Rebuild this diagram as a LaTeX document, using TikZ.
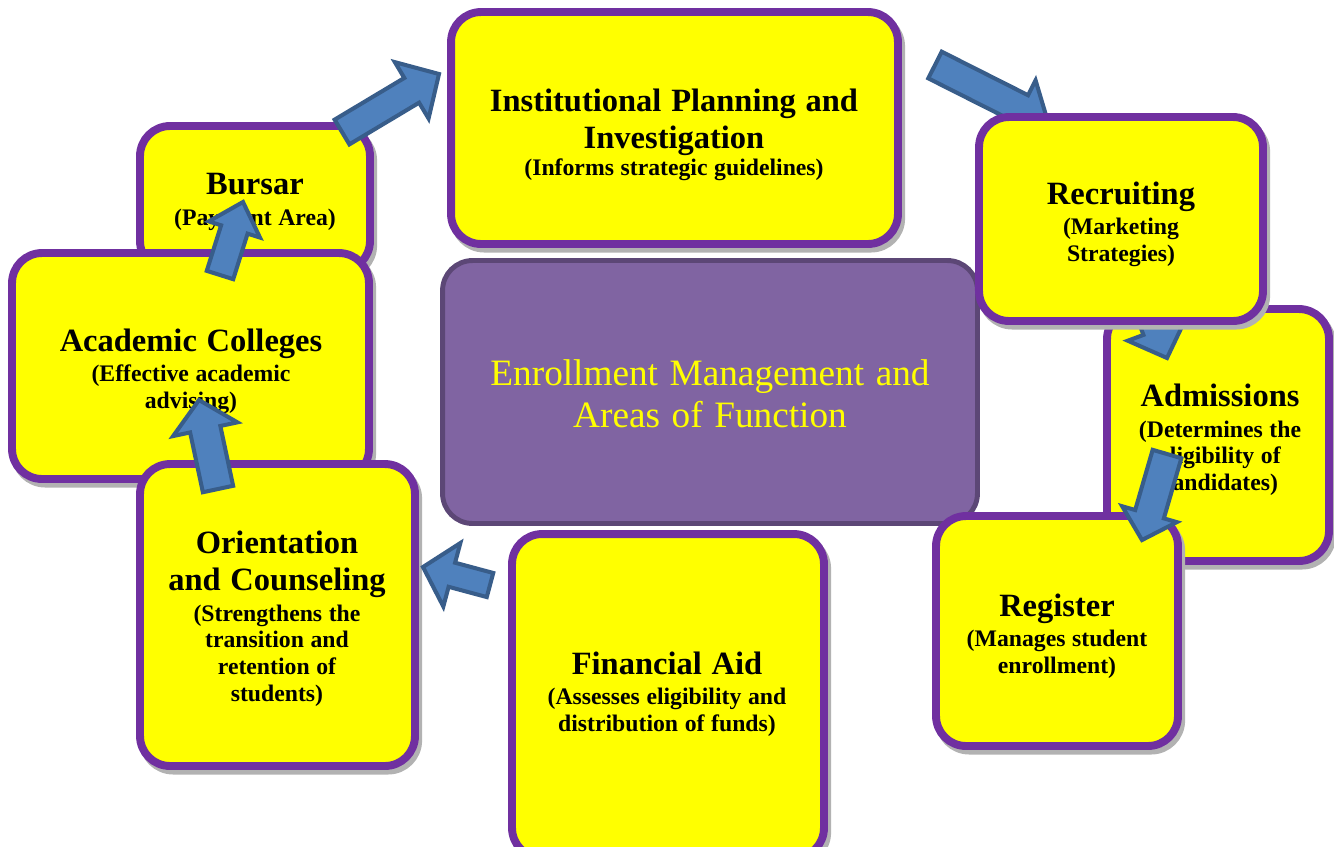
\documentclass[tikz,border=0pt]{standalone}
\usepackage{fontspec}
\setmainfont{Liberation Serif}[WordSpace=1.25]
\usetikzlibrary{calc}
\definecolor{boxpurple}{HTML}{7030A0}
\definecolor{boxyellow}{HTML}{FFFF00}
\definecolor{arrowfill}{HTML}{4F81BD}
\definecolor{arrowline}{HTML}{385D8A}
\definecolor{centerfill}{HTML}{8064A2}
\definecolor{centerline}{HTML}{5C4776}
\newcommand\ttlfont{\fontsize{18.5}{21}\selectfont\bfseries\spaceskip=0.3em\relax}
\newcommand\subfont{\fontsize{13.5}{15.3}\selectfont\bfseries\spaceskip=0.28em\relax}
\newcommand\barrow[6]{%
  \coordinate (#1t) at #2; \coordinate (#1h) at #3;
  \coordinate (#1b) at ($(#1h)!#6!(#1t)$);
  \draw[blockarrow] ($(#1t)!#4!90:(#1h)$) -- ($(#1b)!#4!-90:(#1t)$) -- ($(#1b)!#5!-90:(#1t)$) -- (#1h)
     -- ($(#1b)!#5!90:(#1t)$) -- ($(#1b)!#4!90:(#1t)$) -- ($(#1t)!#4!-90:(#1h)$) -- cycle;}
\tikzset{
  ybox/.style={rectangle, rounded corners=0.6cm, draw=boxpurple, fill=boxyellow, line width=4.5pt,
    inner sep=0pt, outer sep=0pt,
    preaction={draw=black!30, fill=black!30, line width=4.5pt, transform canvas={xshift=1.8pt, yshift=-2.6pt}}},
  cbox/.style={rectangle, rounded corners=0.6cm, draw=centerline, fill=centerfill, line width=2.8pt,
    inner sep=0pt, outer sep=0pt},
  lbl/.style={text width=8cm, align=center, inner sep=0pt, text=black},
  blockarrow/.style={draw=arrowline, fill=arrowfill, line width=2.3pt, line join=miter}
}
\begin{document}
\begin{tikzpicture}[x=0.02cm, y=-0.02cm]
\useasboundingbox (0,0) rectangle (1334,846);
\clip (0,0) rectangle (1334,846);
% Bursar
\node[ybox, minimum width=4.6cm, minimum height=2.9cm] (bursar) at (255,198.5) {};
\node[lbl] (bursarT) at (255,202) {\ttlfont Bursar\par\vspace{2pt}\subfont (Payment Area)\par};
% Academic
\node[ybox, minimum width=7.14cm, minimum height=4.52cm] (acad) at (190.5,366) {};
\node[lbl] (acadT) at (191,371) {\ttlfont Academic Colleges\par\vspace{2pt}\subfont (Effective academic\\advising)\par};
\barrow{a7}{(220,275)}{(243,202)}{7.9pt}{15.3pt}{16.4pt}
% Orientation
\node[ybox, minimum width=5.5cm, minimum height=6.04cm] (orient) at (277.5,615) {};
\node[lbl] (orientT) at (277,619) {\ttlfont Orientation\\and Counseling\par\vspace{2pt}\subfont (Strengthens the\\transition and\\retention of\\students)\par};
\barrow{a6}{(218,489)}{(199,400)}{8.8pt}{18.7pt}{17pt}
% Institutional
\node[ybox, minimum width=8.94cm, minimum height=4.64cm] (inst) at (674.5,128) {};
\node[lbl] (instT) at (674,135) {\ttlfont Institutional Planning and\\Investigation\par\subfont (Informs strategic guidelines)\par};
\barrow{a1}{(342,132)}{(439,74)}{8.2pt}{18.7pt}{18.1pt}
% Center
\node[cbox, minimum width=10.7cm, minimum height=5.26cm] (center) at (710,392) {};
\node[align=center, text=boxyellow, font=\fontsize{21.2}{24}\selectfont, inner sep=0pt] (centerT) at (710,394) {Enrollment Management and\\Areas of Function};
\barrow{a2}{(935,65)}{(1048,122)}{8.5pt}{18pt}{17pt}
% Admissions
\node[ybox, minimum width=4.44cm, minimum height=5.04cm] (adm) at (1218,435) {};
\node[lbl] (admT) at (1220,440) {\ttlfont Admissions\par\vspace{2pt}\subfont (Determines the\\eligibility of\\candidates)\par};
\barrow{a3}{(1125,245)}{(1167,358)}{8pt}{17.5pt}{17pt}
% Recruiting
\node[ybox, minimum width=5.68cm, minimum height=4.08cm] (recr) at (1121,219) {};
\node[lbl] (recrT) at (1121,224) {\ttlfont Recruiting\par\vspace{2pt}\subfont (Marketing\\Strategies)\par};
% Register
\node[ybox, minimum width=4.84cm, minimum height=4.6cm] (reg) at (1057,631) {};
\node[lbl] (regT) at (1057,636) {\ttlfont Register\par\vspace{2pt}\subfont (Manages student\\enrollment)\par};
\barrow{a4}{(1167,454)}{(1142,540)}{8.5pt}{16.2pt}{15.3pt}
% Financial Aid
\node[ybox, minimum width=6.24cm, minimum height=6.48cm] (fin) at (668,696) {};
\node[lbl] (finT) at (667,694) {\ttlfont Financial Aid\par\vspace{2pt}\subfont (Assesses eligibility and\\distribution of funds)\par};
\barrow{a5}{(490,585)}{(423,567)}{7.1pt}{18.7pt}{17pt}
\end{tikzpicture}
\end{document}
